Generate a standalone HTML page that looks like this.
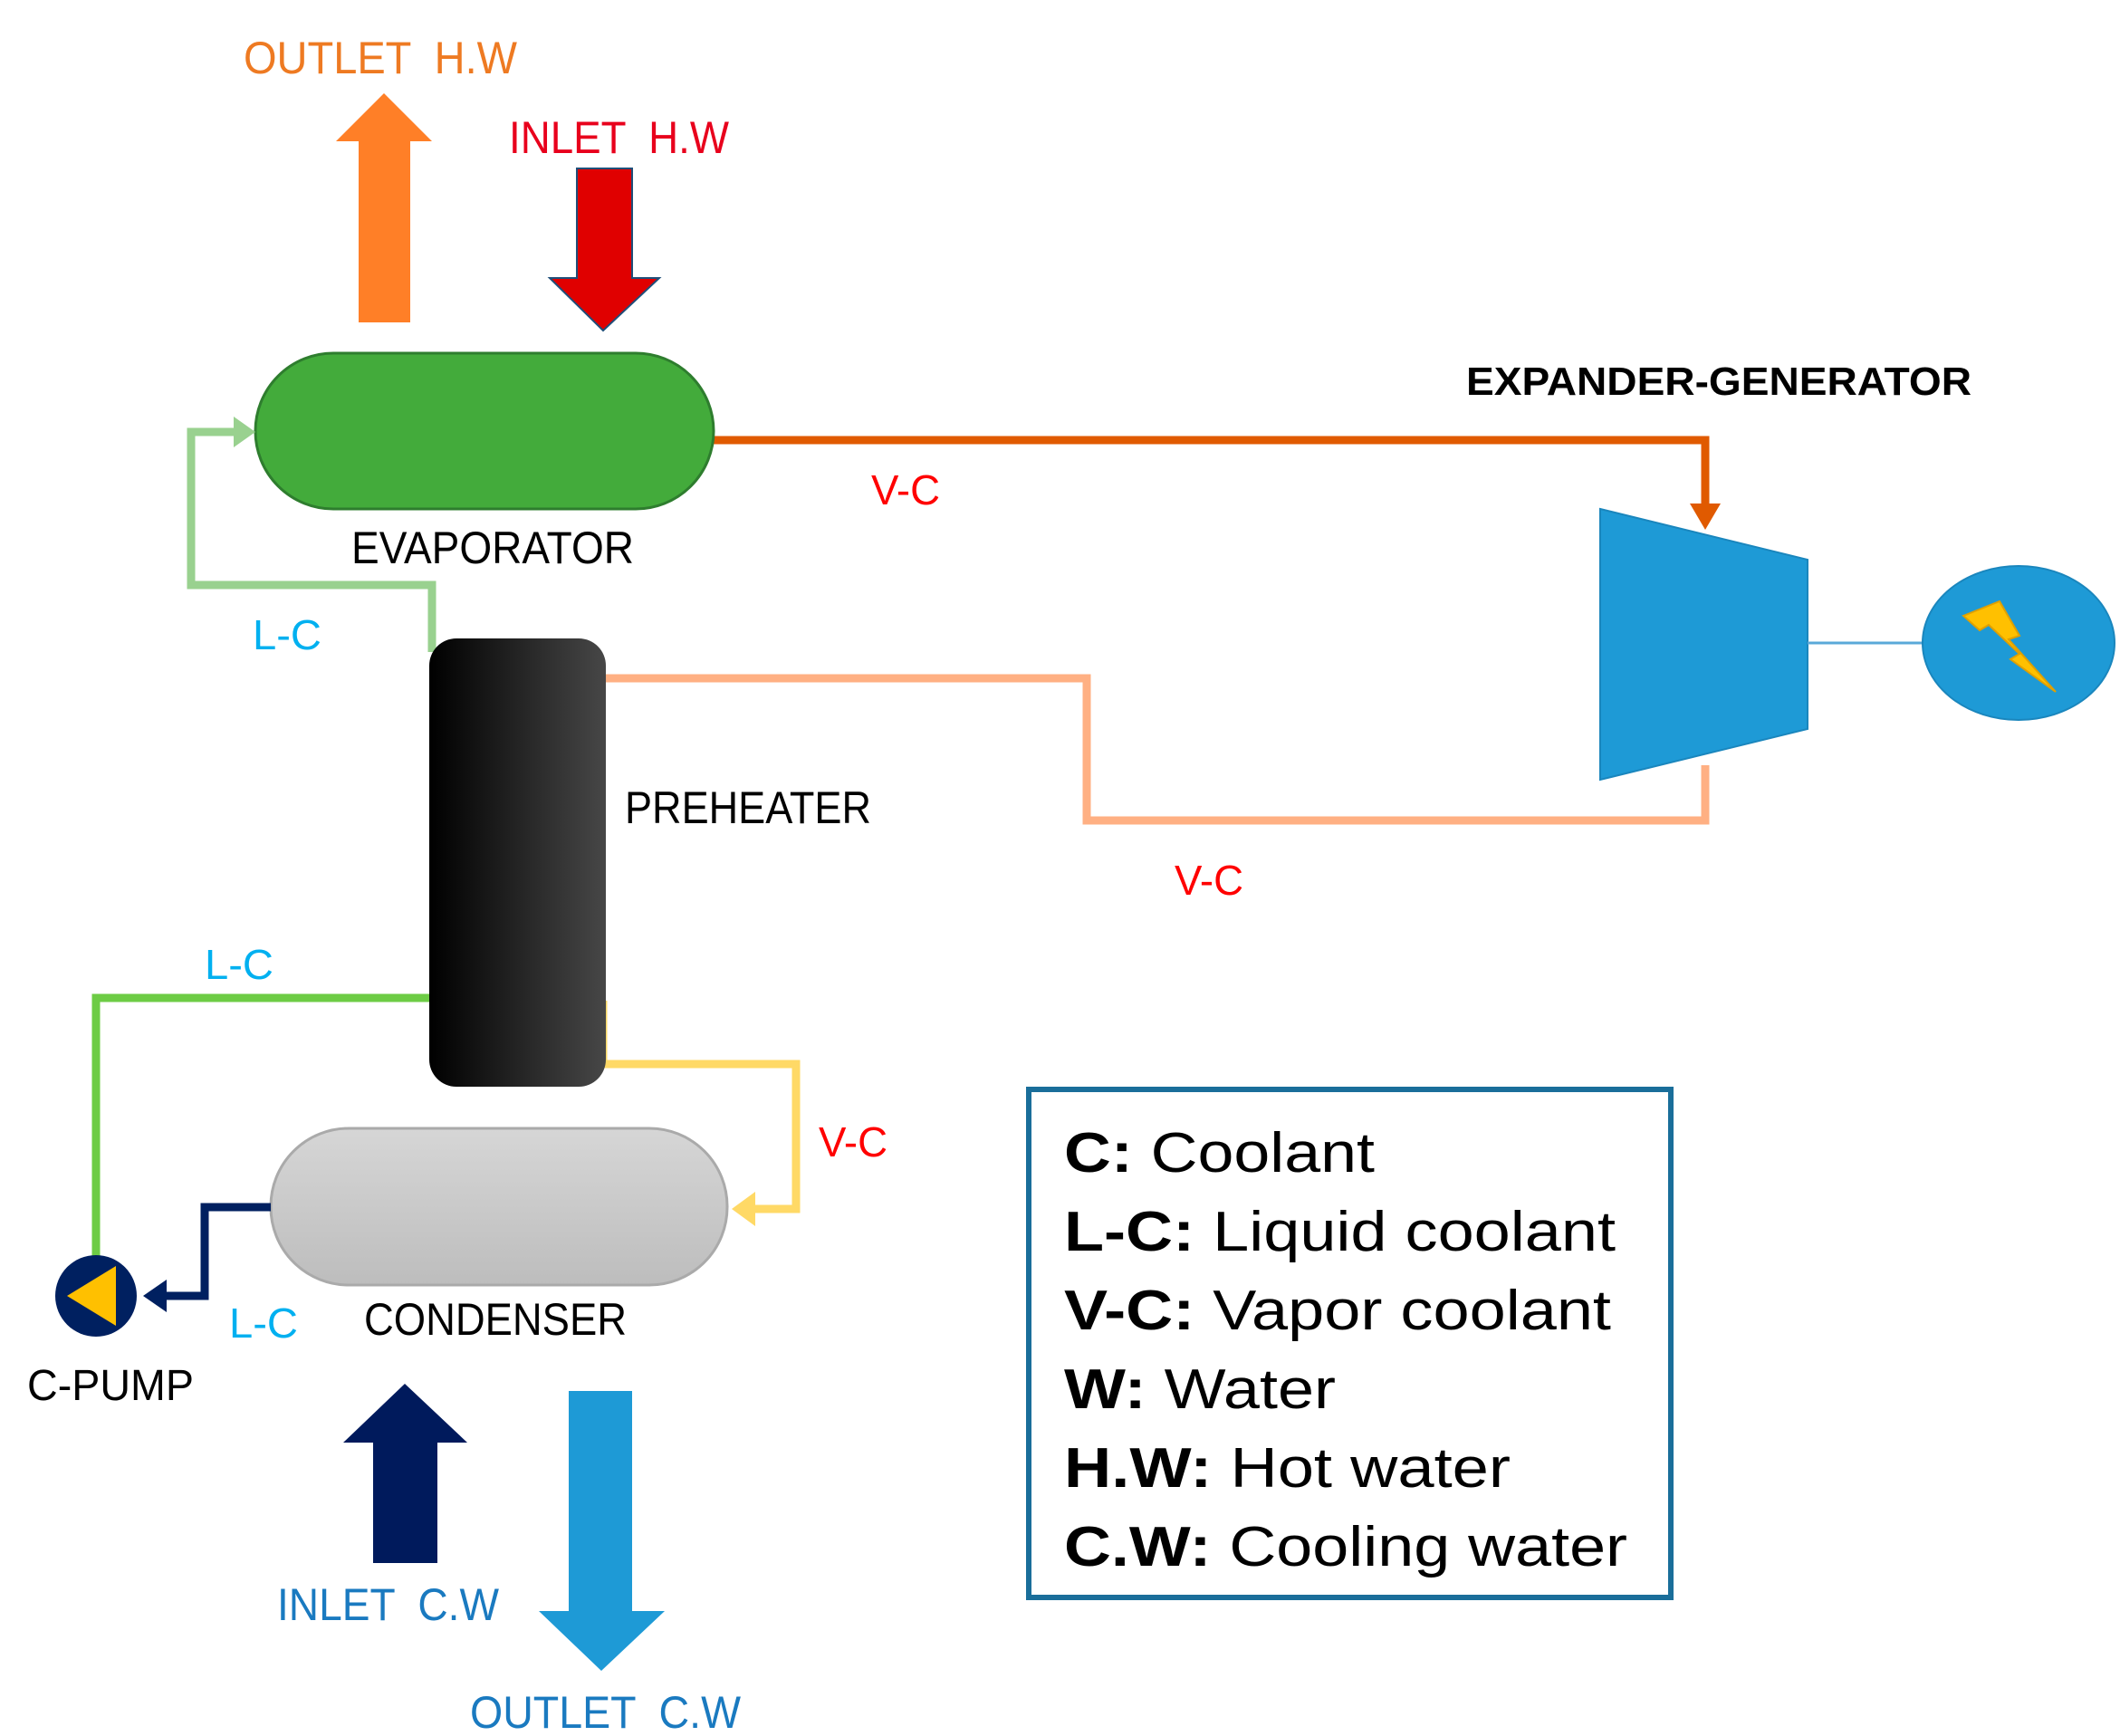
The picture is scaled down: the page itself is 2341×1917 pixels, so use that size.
<!DOCTYPE html>
<html><head><meta charset="utf-8"><style>html,body{margin:0;padding:0;background:#fff}svg{display:block}.pre{white-space:pre}</style></head>
<body>
<svg width="2341" height="1917" viewBox="0 0 2341 1917" xmlns="http://www.w3.org/2000/svg" xml:space="preserve">
<defs>
<linearGradient id="ph" x1="0" x2="1" y1="0" y2="0"><stop offset="0" stop-color="#000"/><stop offset="1" stop-color="#474747"/></linearGradient>
<linearGradient id="cd" x1="0" x2="0" y1="0" y2="1"><stop offset="0" stop-color="#d6d6d6"/><stop offset="1" stop-color="#bdbdbd"/></linearGradient>
</defs>
<g font-family="Liberation Sans, sans-serif">
<polygon points="396,356 453,356 453,156 477,156 424,103 371,156 396,156" fill="#ff7f27"/>
<text class="pre" x="269" y="81" font-size="50" fill="#ee7a22" textLength="302" lengthAdjust="spacingAndGlyphs">OUTLET  H.W</text>
<polygon points="637,186 698,186 698,307 728,307 666,365 607,307 637,307" fill="#e00000" stroke="#1f4e79" stroke-width="2"/>
<text class="pre" x="562" y="169" font-size="50" fill="#e8001c" textLength="243" lengthAdjust="spacingAndGlyphs">INLET  H.W</text>
<polyline points="788,486 1883,486 1883,560" fill="none" stroke="#e05a00" stroke-width="9"/>
<polygon points="1866,556 1900,556 1883,585" fill="#e05a00"/>
<text x="962" y="557" font-size="46" fill="#ff0000" textLength="76" lengthAdjust="spacingAndGlyphs">V-C</text>
<rect x="282" y="390" width="506" height="172" rx="86" fill="#43ab3b" stroke="#2e7d2e" stroke-width="3"/>
<text x="388" y="622" font-size="50" fill="#000" textLength="312" lengthAdjust="spacingAndGlyphs">EVAPORATOR</text>
<polyline points="477,720 477,646 211,646 211,477 262,477" fill="none" stroke="#99d18f" stroke-width="9"/>
<polygon points="258,460 282,477 258,494" fill="#99d18f"/>
<text x="279" y="717" font-size="46" fill="#00b0f0" textLength="76" lengthAdjust="spacingAndGlyphs">L-C</text>
<polyline points="669,749 1200,749 1200,906 1883,906 1883,845" fill="none" stroke="#ffb083" stroke-width="9"/>
<text x="1297" y="988" font-size="46" fill="#ff0000" textLength="76" lengthAdjust="spacingAndGlyphs">V-C</text>
<text x="1619" y="436" font-size="44" font-weight="bold" fill="#000" textLength="558" lengthAdjust="spacingAndGlyphs">EXPANDER-GENERATOR</text>
<polygon points="1767,562 1996,618 1996,805 1767,861" fill="#1e9ad6" stroke="#1a86bd" stroke-width="2"/>
<line x1="1996" y1="710" x2="2126" y2="710" stroke="#5aa9d9" stroke-width="3"/>
<ellipse cx="2229" cy="710" rx="106" ry="85" fill="#1e9ad6" stroke="#1a86bd" stroke-width="2"/>
<polygon points="2168,680 2208,664 2230,702 2218,706 2270,764 2220,728 2230,722 2196,690 2186,696" fill="#ffc000" stroke="#e0a000" stroke-width="2"/>
<polyline points="478,1102 106,1102 106,1392" fill="none" stroke="#6dcc45" stroke-width="9"/>
<text x="226" y="1081" font-size="46" fill="#00b0f0" textLength="76" lengthAdjust="spacingAndGlyphs">L-C</text>
<polyline points="666,1105 666,1175 879,1175 879,1335 830,1335" fill="none" stroke="#ffd966" stroke-width="9"/>
<polygon points="834,1316 808,1335 834,1354" fill="#ffd966"/>
<text x="904" y="1277" font-size="46" fill="#ff0000" textLength="76" lengthAdjust="spacingAndGlyphs">V-C</text>
<rect x="474" y="705" width="195" height="495" rx="30" fill="url(#ph)"/>
<text x="690" y="909" font-size="50" fill="#000" textLength="272" lengthAdjust="spacingAndGlyphs">PREHEATER</text>
<rect x="299" y="1246" width="504" height="173" rx="86" fill="url(#cd)" stroke="#aaaaaa" stroke-width="3"/>
<text x="402" y="1474" font-size="50" fill="#000" textLength="290" lengthAdjust="spacingAndGlyphs">CONDENSER</text>
<polyline points="299,1333 226,1333 226,1431 180,1431" fill="none" stroke="#002060" stroke-width="9"/>
<polygon points="184,1413 158,1431 184,1449" fill="#002060"/>
<text x="253" y="1477" font-size="46" fill="#00b0f0" textLength="76" lengthAdjust="spacingAndGlyphs">L-C</text>
<circle cx="106" cy="1431" r="45" fill="#002060"/>
<polygon points="74,1431 128,1398 128,1464" fill="#ffc000"/>
<text x="30" y="1546" font-size="48" fill="#000" textLength="184" lengthAdjust="spacingAndGlyphs">C-PUMP</text>
<polygon points="412,1726 483,1726 483,1593 516,1593 447,1528 379,1593 412,1593" fill="#001a5c"/>
<text class="pre" x="306" y="1789" font-size="50" fill="#1a7ac0" textLength="245" lengthAdjust="spacingAndGlyphs">INLET  C.W</text>
<polygon points="628,1536 698,1536 698,1779 734,1779 664,1845 595,1779 628,1779" fill="#1e9ad6"/>
<text class="pre" x="519" y="1908" font-size="50" fill="#1a7ac0" textLength="299" lengthAdjust="spacingAndGlyphs">OUTLET  C.W</text>
<rect x="1136" y="1203" width="709" height="561" fill="#fff" stroke="#1a6e9a" stroke-width="6"/>
<g font-size="62" fill="#000">
<text x="1175" y="1294" textLength="343" lengthAdjust="spacingAndGlyphs"><tspan font-weight="bold">C:</tspan> Coolant</text>
<text x="1175" y="1381" textLength="609" lengthAdjust="spacingAndGlyphs"><tspan font-weight="bold">L-C:</tspan> Liquid coolant</text>
<text x="1175" y="1468" textLength="604" lengthAdjust="spacingAndGlyphs"><tspan font-weight="bold">V-C:</tspan> Vapor coolant</text>
<text x="1175" y="1555" textLength="300" lengthAdjust="spacingAndGlyphs"><tspan font-weight="bold">W:</tspan> Water</text>
<text x="1175" y="1642" textLength="493" lengthAdjust="spacingAndGlyphs"><tspan font-weight="bold">H.W:</tspan> Hot water</text>
<text x="1175" y="1729" textLength="622" lengthAdjust="spacingAndGlyphs"><tspan font-weight="bold">C.W:</tspan> Cooling water</text>
</g>
</g>
</svg>
</body></html>
